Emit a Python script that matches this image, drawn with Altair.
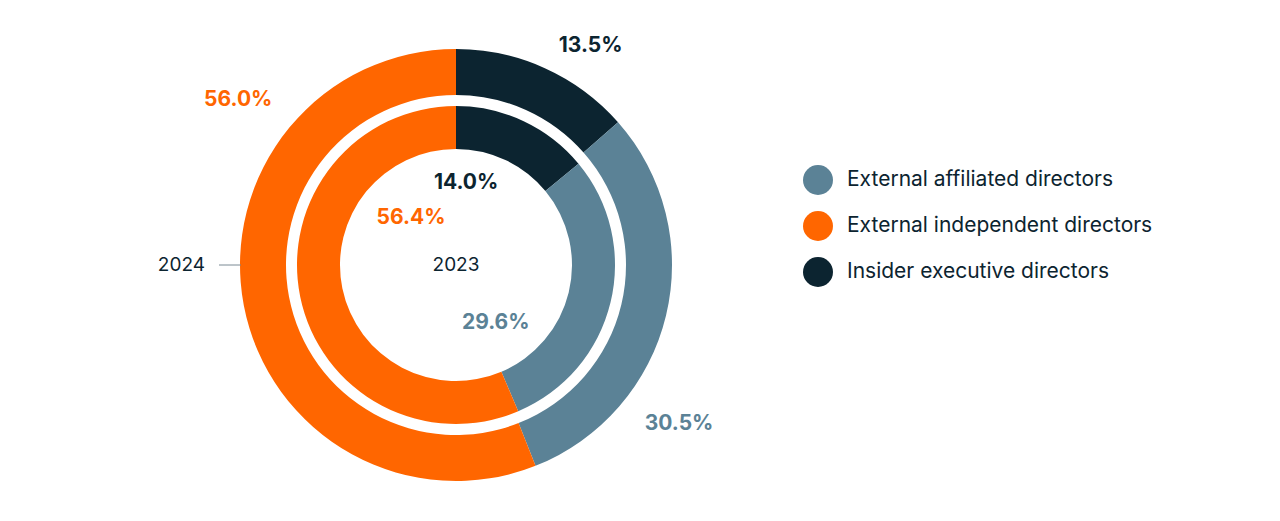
import altair as alt
import pandas as pd
import math

categories = ["Insider executive directors", "External affiliated directors", "External independent directors"]
values_2024 = [13.5, 30.5, 56.0]
values_2023 = [14.0, 29.6, 56.4]
label_2024 = ["13.5%", "30.5%", "56.0%"]
label_2023 = ["14.0%", "29.6%", "56.4%"]

colors = {
    "External affiliated directors": "#5b8296",
    "External independent directors": "#ff6600",
    "Insider executive directors": "#0c2430",
}
FONT = "Inter"
CX, CY = 456, 265

rows = []
for i, c in enumerate(categories):
    rows.append({"cat": c, "year": "2024", "value": values_2024[i], "order": i})
    rows.append({"cat": c, "year": "2023", "value": values_2023[i], "order": i})
df = pd.DataFrame(rows)

# label placement (angle clockwise from 12 o'clock in degrees, distance from centre)
placement = {
    ("2024", 0): (31.6, 257), ("2024", 1): (125.5, 274), ("2024", 2): (307.1, 273),
    ("2023", 0): (7.0, 83), ("2023", 1): (145.4, 70), ("2023", 2): (316.2, 65),
}
lrows = []
for i, c in enumerate(categories):
    for yr, labs in (("2024", label_2024), ("2023", label_2023)):
        ang, r = placement[(yr, i)]
        lrows.append({"cat": c, "label": labs[i], "theta": math.radians(ang), "r": r})
ldf = pd.DataFrame(lrows)

color_scale = alt.Scale(domain=list(colors.keys()), range=list(colors.values()))

base = alt.Chart(df)

def ring(year, r_out, r_in, legend):
    return base.transform_filter(alt.datum.year == year).mark_arc(
        radius=r_out, radius2=r_in, stroke=None
    ).encode(
        theta=alt.Theta("value:Q", stack=True),
        order=alt.Order("order:Q"),
        color=alt.Color("cat:N", scale=color_scale, legend=legend),
        x=alt.value(CX), y=alt.value(CY),
    )

legend = alt.Legend(
    title=None, orient="none", legendX=803, legendY=165,
    symbolType="circle", symbolSize=900, symbolStrokeWidth=0,
    labelFont=FONT, labelFontSize=21, labelColor="#0c2430",
    labelOffset=14, rowPadding=16, labelLimit=400,
)

outer = ring("2024", 216, 170, legend)
inner = ring("2023", 159, 116, None)

labels = alt.Chart(ldf).mark_text(
    font=FONT, fontSize=21, fontWeight="bold", align="center", baseline="middle"
).encode(
    theta=alt.Theta("theta:Q", scale=None),
    radius=alt.Radius("r:Q", scale=None),
    text="label:N",
    color=alt.Color("cat:N", scale=color_scale, legend=None),
    x=alt.value(CX), y=alt.value(CY),
)

t2024 = alt.Chart(pd.DataFrame({"t": ["2024"]})).mark_text(
    font=FONT, fontSize=19, color="#0c2430", align="right", baseline="middle"
).encode(text="t:N", x=alt.value(205), y=alt.value(CY))
t2023 = alt.Chart(pd.DataFrame({"t": ["2023"]})).mark_text(
    font=FONT, fontSize=19, color="#0c2430", align="center", baseline="middle"
).encode(text="t:N", x=alt.value(CX), y=alt.value(CY))
tick = alt.Chart(pd.DataFrame({"t": [0]})).mark_rule(color="#7a8a94", strokeWidth=1).encode(
    x=alt.value(219), x2=alt.value(241), y=alt.value(CY)
)

chart = alt.layer(outer, inner, labels, t2024, t2023, tick).properties(
    width=1280, height=521, padding=0, autosize=alt.AutoSizeParams(type="none"),
    background="white",
).configure_view(stroke=None)

chart.save("out.html", embed_options={"renderer": "svg", "actions": False})
